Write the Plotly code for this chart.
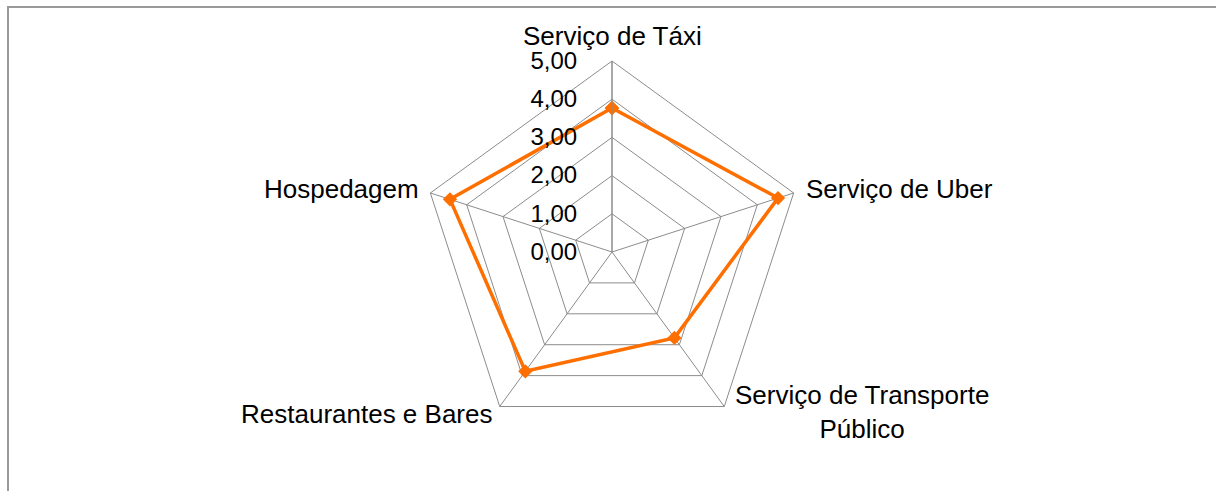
import plotly.graph_objects as go

categories = ["Serviço de Táxi", "Serviço de Uber", "Serviço de Transporte Público",
              "Restaurantes e Bares", "Hospedagem"]
category_labels = ["Serviço de Táxi", "Serviço de Uber", "Serviço de Transporte<br>Público",
                   "Restaurantes e Bares", "Hospedagem"]
values = [3.77, 4.57, 2.78, 3.86, 4.46]
tick_vals = [0, 1, 2, 3, 4, 5]
tick_text = ["0,00", "1,00", "2,00", "3,00", "4,00", "5,00"]

orange = "#FF6F00"
grid = "#8C8C8C"

fig = go.Figure()
fig.add_trace(go.Scatterpolar(
    r=values + values[:1],
    theta=categories + categories[:1],
    mode="lines+markers",
    line=dict(color=orange, width=3.5),
    marker=dict(symbol="diamond", size=11, color=orange),
    showlegend=False,
    hoverinfo="skip",
))

W, H = 1216, 491
cx, cy, R = 612, 252, 191
px = lambda x: x / W
py = lambda y: 1 - y / H

# category label placement (pixel anchor, alignment)
label_pos = [
    (612, 36, "center", "middle"),
    (804, 189, "left", "middle"),
    (862, 412, "center", "middle"),
    (494, 414, "right", "middle"),
    (421, 189, "right", "middle"),
]
annotations = []
for text, (x, y, xa, ya) in zip(category_labels, label_pos):
    annotations.append(dict(
        text=text, x=px(x), y=py(y), xref="paper", yref="paper",
        xanchor=xa, yanchor=ya, align="center", showarrow=False,
        font=dict(size=26, color="black"),
    ))

fig.update_layout(
    width=W, height=H,
    margin=dict(l=0, r=0, t=0, b=0),
    paper_bgcolor="white",
    plot_bgcolor="white",
    font=dict(family="Liberation Sans, Arial, sans-serif", size=26, color="black"),
    polar=dict(
        domain=dict(x=[(cx - R) / W, (cx + R) / W], y=[(H - cy - R) / H, (H - cy + R) / H]),
        gridshape="linear",
        bgcolor="white",
        angularaxis=dict(
            rotation=90, direction="clockwise",
            showline=True, linecolor=grid, linewidth=1,
            gridcolor=grid, gridwidth=1,
            ticks="", showticklabels=False,
        ),
        radialaxis=dict(
            range=[0, 5], tickvals=tick_vals, ticktext=tick_text,
            angle=90, tickangle=90, side="counterclockwise",
            showline=True, linecolor=grid, linewidth=1,
            gridcolor=grid, gridwidth=1,
            ticks="outside", ticklen=26, tickcolor="rgba(0,0,0,0)",
            tickfont=dict(size=24),
        ),
    ),
    annotations=annotations,
    shapes=[dict(type="rect", xref="paper", yref="paper",
                 x0=8 / W, x1=1.05, y0=-0.05, y1=(H - 7) / H,
                 line=dict(color="#999999", width=2), layer="below")],
)

fig.write_html("out.html", config={"displayModeBar": False},
               post_script="document.body.style.margin='0';document.body.style.padding='0';")
